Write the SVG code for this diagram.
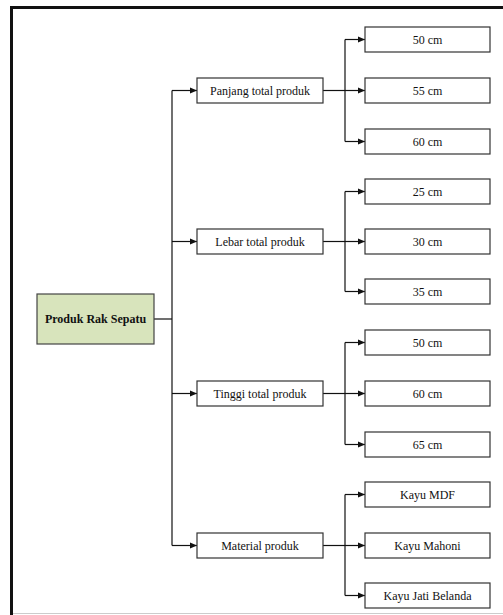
<svg xmlns="http://www.w3.org/2000/svg" width="503" height="615" viewBox="0 0 503 615">
<style>
.box{fill:#ffffff;stroke:#333333;stroke-width:1.2}
.root{fill:#d8e4bc;stroke:#444444;stroke-width:1.2}
text{font-family:"Liberation Serif","Times New Roman",serif;font-size:12px;fill:#111111;text-anchor:middle;dominant-baseline:central}
.bold{font-weight:bold}
.ln{fill:none;stroke:#111111;stroke-width:1.2}
</style>
<defs>
<marker id="ah" markerWidth="8" markerHeight="8" refX="7" refY="4" orient="auto" markerUnits="userSpaceOnUse">
<path d="M0,1 L7,4 L0,7 Z" fill="#111111"/>
</marker>
</defs>
<rect x="0" y="0" width="503" height="615" fill="#ffffff"/>
<g id="frame">
<line x1="10" y1="7.5" x2="503" y2="7.5" stroke="#111111" stroke-width="3"/>
<line x1="11.5" y1="6" x2="11.5" y2="615" stroke="#111111" stroke-width="3"/>
<line x1="13" y1="613.5" x2="503" y2="613.5" stroke="#cccccc" stroke-width="1"/>
</g>
<g id="connectors">
<path class="ln" d="M154,319 H172"/>
<path class="ln" d="M172,90.5 V545.5"/>
<path class="ln" marker-end="url(#ah)" d="M172,90.5 H197"/>
<path class="ln" marker-end="url(#ah)" d="M172,241.5 H197"/>
<path class="ln" marker-end="url(#ah)" d="M172,393.5 H197"/>
<path class="ln" marker-end="url(#ah)" d="M172,545.5 H197"/>
<path class="ln" d="M323,90.5 H345"/>
<path class="ln" d="M345,39.5 V141.5"/>
<path class="ln" marker-end="url(#ah)" d="M345,39.5 H365"/>
<path class="ln" marker-end="url(#ah)" d="M345,90.5 H365"/>
<path class="ln" marker-end="url(#ah)" d="M345,141.5 H365"/>
<path class="ln" d="M323,241.5 H345"/>
<path class="ln" d="M345,191.5 V291.5"/>
<path class="ln" marker-end="url(#ah)" d="M345,191.5 H365"/>
<path class="ln" marker-end="url(#ah)" d="M345,241.5 H365"/>
<path class="ln" marker-end="url(#ah)" d="M345,291.5 H365"/>
<path class="ln" d="M323,393.5 H345"/>
<path class="ln" d="M345,342.5 V444.5"/>
<path class="ln" marker-end="url(#ah)" d="M345,342.5 H365"/>
<path class="ln" marker-end="url(#ah)" d="M345,393.5 H365"/>
<path class="ln" marker-end="url(#ah)" d="M345,444.5 H365"/>
<path class="ln" d="M323,545.5 H345"/>
<path class="ln" d="M345,494.5 V595.5"/>
<path class="ln" marker-end="url(#ah)" d="M345,494.5 H365"/>
<path class="ln" marker-end="url(#ah)" d="M345,545.5 H365"/>
<path class="ln" marker-end="url(#ah)" d="M345,595.5 H365"/>
</g>
<g id="root"><rect class="root" x="37" y="294" width="117" height="50"/><text class="bold" x="95.5" y="319">Produk Rak Sepatu</text></g>
<g id="panjang"><rect class="box" x="197" y="78" width="126" height="25"/><text x="260" y="90.5">Panjang total produk</text></g>
<g id="lebar"><rect class="box" x="197" y="229" width="126" height="25"/><text x="260" y="241.5">Lebar total produk</text></g>
<g id="tinggi"><rect class="box" x="197" y="381" width="126" height="25"/><text x="260" y="393.5">Tinggi total produk</text></g>
<g id="material"><rect class="box" x="197" y="533" width="126" height="25"/><text x="260" y="545.5">Material produk</text></g>
<g id="p50"><rect class="box" x="365" y="27" width="125" height="25"/><text x="427.5" y="39.5">50 cm</text></g>
<g id="p55"><rect class="box" x="365" y="78" width="125" height="25"/><text x="427.5" y="90.5">55 cm</text></g>
<g id="p60"><rect class="box" x="365" y="129" width="125" height="25"/><text x="427.5" y="141.5">60 cm</text></g>
<g id="l25"><rect class="box" x="365" y="179" width="125" height="25"/><text x="427.5" y="191.5">25 cm</text></g>
<g id="l30"><rect class="box" x="365" y="229" width="125" height="25"/><text x="427.5" y="241.5">30 cm</text></g>
<g id="l35"><rect class="box" x="365" y="279" width="125" height="25"/><text x="427.5" y="291.5">35 cm</text></g>
<g id="t50"><rect class="box" x="365" y="330" width="125" height="25"/><text x="427.5" y="342.5">50 cm</text></g>
<g id="t60"><rect class="box" x="365" y="381" width="125" height="25"/><text x="427.5" y="393.5">60 cm</text></g>
<g id="t65"><rect class="box" x="365" y="432" width="125" height="25"/><text x="427.5" y="444.5">65 cm</text></g>
<g id="mdf"><rect class="box" x="365" y="482" width="125" height="25"/><text x="427.5" y="494.5">Kayu MDF</text></g>
<g id="mahoni"><rect class="box" x="365" y="533" width="125" height="25"/><text x="427.5" y="545.5">Kayu Mahoni</text></g>
<g id="jati"><rect class="box" x="365" y="583" width="125" height="25"/><text x="427.5" y="595.5">Kayu Jati Belanda</text></g>
</svg>
